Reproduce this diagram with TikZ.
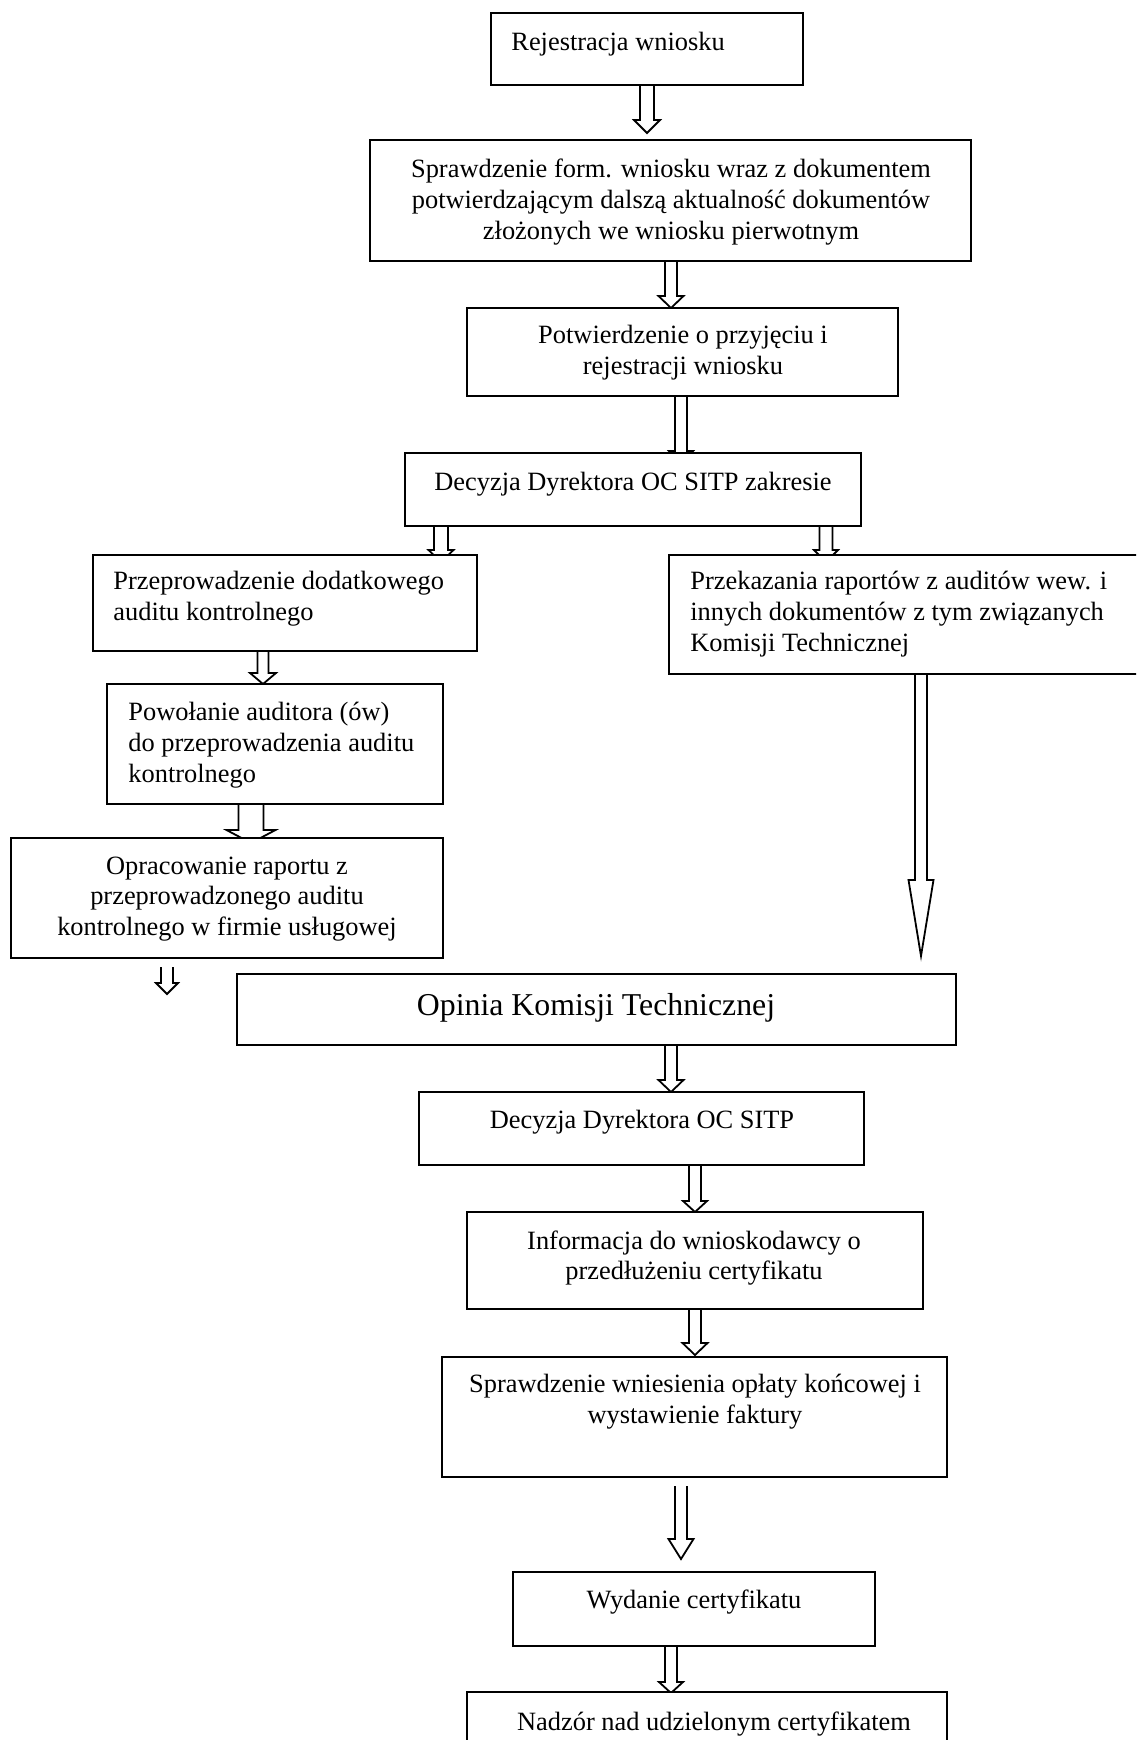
\documentclass[tikz,border=0pt]{standalone}
\usepackage{fontspec}
\setmainfont{Liberation Serif}
\usetikzlibrary{calc,fit}
\pgfdeclarelayer{background}
\pgfsetlayers{background,main}
\tikzset{
  box/.style={draw, line width=1pt, fill=white, inner sep=0pt, outer sep=0pt},
  openbox/.style={draw=none, fill=white, inner sep=0pt, outer sep=0pt},
  edge3/.style={line width=1pt},
  txt/.style={inner sep=0pt, font=\fontsize{13.2}{15.4}\selectfont},
  bigtxt/.style={inner sep=0pt, font=\fontsize{15.9}{18}\selectfont},
  conn/.style={draw, line width=0.9pt, fill=white, line join=miter},
}
% from, start offset, to, wing offset above target top, head length, x centre, shaft half width, head half width
\newcommand\blockarrow[8]{%
  \pgfmathsetmacro\bxa{#6-#7}\pgfmathsetmacro\bxb{#6+#7}%
  \pgfmathsetmacro\bxc{#6-#8}\pgfmathsetmacro\bxd{#6+#8}%
  \pgfmathsetmacro\bya{#5-#4}%
  \draw[conn] ($(#1.south -| \bxa,0)+(0,#2)$) -- ($(#3.north -| \bxa,0)+(0,-#4)$)
    -- ($(#3.north -| \bxc,0)+(0,-#4)$) -- ($(#3.north -| #6,0)+(0,\bya)$)
    -- ($(#3.north -| \bxd,0)+(0,-#4)$) -- ($(#3.north -| \bxb,0)+(0,-#4)$)
    -- ($(#1.south -| \bxb,0)+(0,#2)$);
}
\begin{document}
\begin{tikzpicture}[x=0.5pt,y=-0.5pt]
\useasboundingbox (0,0) rectangle (1136,1740);
\clip (0,0) rectangle (1136,1740);
\begin{pgfonlayer}{background}
\fill[white] (0,0) rectangle (1136,1740);
\end{pgfonlayer}

% boxes
\node[box, fit={(491,13) (803,85)}] (b1) {};
\node[box, fit={(370,140) (971,261)}] (b2) {};
\node[box, fit={(467,308) (898,396)}] (b3) {};
\node[box, fit={(405,453) (861,526)}] (b4) {};
\node[box, fit={(93,555) (477,651)}] (b5) {};
\node[openbox, fit={(669,555) (1142,674)}] (b6) {};
\draw[edge3] (b6.north east) -- (b6.north west) -- (b6.south west) -- (b6.south east);
\node[box, fit={(107,684) (443,804)}] (b7) {};
\node[box, fit={(11,838) (443,958)}] (b8) {};
\node[box, fit={(237,974) (956,1045)}] (b9) {};
\node[box, fit={(419,1092) (864,1165)}] (b10) {};
\node[box, fit={(467,1212) (923,1309)}] (b11) {};
\node[box, fit={(442,1357) (947,1477)}] (b12) {};
\node[box, fit={(513,1572) (875,1646)}] (b13) {};
\node[openbox, fit={(467,1692) (947,1746)}] (b14) {};
\draw[edge3] (b14.south west) -- (b14.north west) -- (b14.north east) -- (b14.south east);

% texts
\node[txt, anchor=west] (t1) at (511,44) {Rejestracja wniosku};
\node[txt, align=center] (t2) at (671,202) {Sprawdzenie form. wniosku wraz z dokumentem\\potwierdzającym dalszą aktualność dokumentów\\złożonych we wniosku pierwotnym};
\node[txt, align=center] (t3) at (683,353) {Potwierdzenie o przyjęciu i\\rejestracji wniosku};
\node[txt] (t4) at (633,484) {Decyzja Dyrektora OC SITP zakresie};
\node[txt, anchor=west, align=left] (t5) at (113,599) {Przeprowadzenie dodatkowego\\auditu kontrolnego};
\node[txt, anchor=west, align=left] (t6) at (690,614) {Przekazania raportów z auditów wew. i\\innych dokumentów z tym związanych\\Komisji Technicznej};
\node[txt, anchor=west, align=left] (t7) at (128,745) {Powołanie auditora (ów)\\do przeprowadzenia auditu\\kontrolnego};
\node[txt, align=center] (t8) at (227,899) {Opracowanie raportu z\\przeprowadzonego auditu\\kontrolnego w firmie usługowej};
\node[bigtxt] (t9) at (596,1008) {Opinia Komisji Technicznej};
\node[txt] (t10) at (642,1122) {Decyzja Dyrektora OC SITP};
\node[txt, align=center] (t11) at (694,1258) {Informacja do wnioskodawcy o\\przedłużeniu certyfikatu};
\node[txt, align=center] (t12) at (695,1402) {Sprawdzenie wniesienia opłaty końcowej i\\wystawienie faktury};
\node[txt] (t13) at (694,1602) {Wydanie certyfikatu};
\node[txt] (t14) at (714,1724) {Nadzór nad udzielonym certyfikatem};

% connectors
\coordinate (e8) at (167,994);
\begin{pgfonlayer}{background}
\blockarrow{b1}{0}{b2}{20}{13}{647}{7}{13}
\blockarrow{b2}{0}{b3}{12}{12}{671}{6}{12.5}
\blockarrow{b3}{0}{b4}{2}{12}{681}{6}{12}
\blockarrow{b4}{0}{b5}{5}{12}{441}{7}{12.5}
\blockarrow{b4}{0}{b6}{5}{12}{826}{6.5}{12}
\blockarrow{b5}{0}{b7}{11}{11}{263}{5.5}{13}
\blockarrow{b7}{0}{b8}{8}{13}{251}{12.5}{24.5}
\blockarrow{b6}{0}{b9}{94}{76}{921}{6}{12.5}
\blockarrow{b9}{0}{b10}{12}{12}{671}{6}{12.5}
\blockarrow{b10}{0}{b11}{11}{11}{695}{6}{12}
\blockarrow{b11}{0}{b12}{14}{12}{695}{6}{12.5}
\blockarrow{b12}{9}{b13}{33}{20}{681}{6}{12.5}
\blockarrow{b13}{0}{b14}{10}{11}{671}{6}{12}
\draw[conn] ($(b8.south -| 161,0)+(0,9)$) -- ($(e8)+(-6,-11)$) -- ($(e8)+(-11,-11)$) -- (e8)
  -- ($(e8)+(11,-11)$) -- ($(e8)+(6,-11)$) -- ($(b8.south -| 173,0)+(0,9)$);
\end{pgfonlayer}
\end{tikzpicture}
\end{document}
